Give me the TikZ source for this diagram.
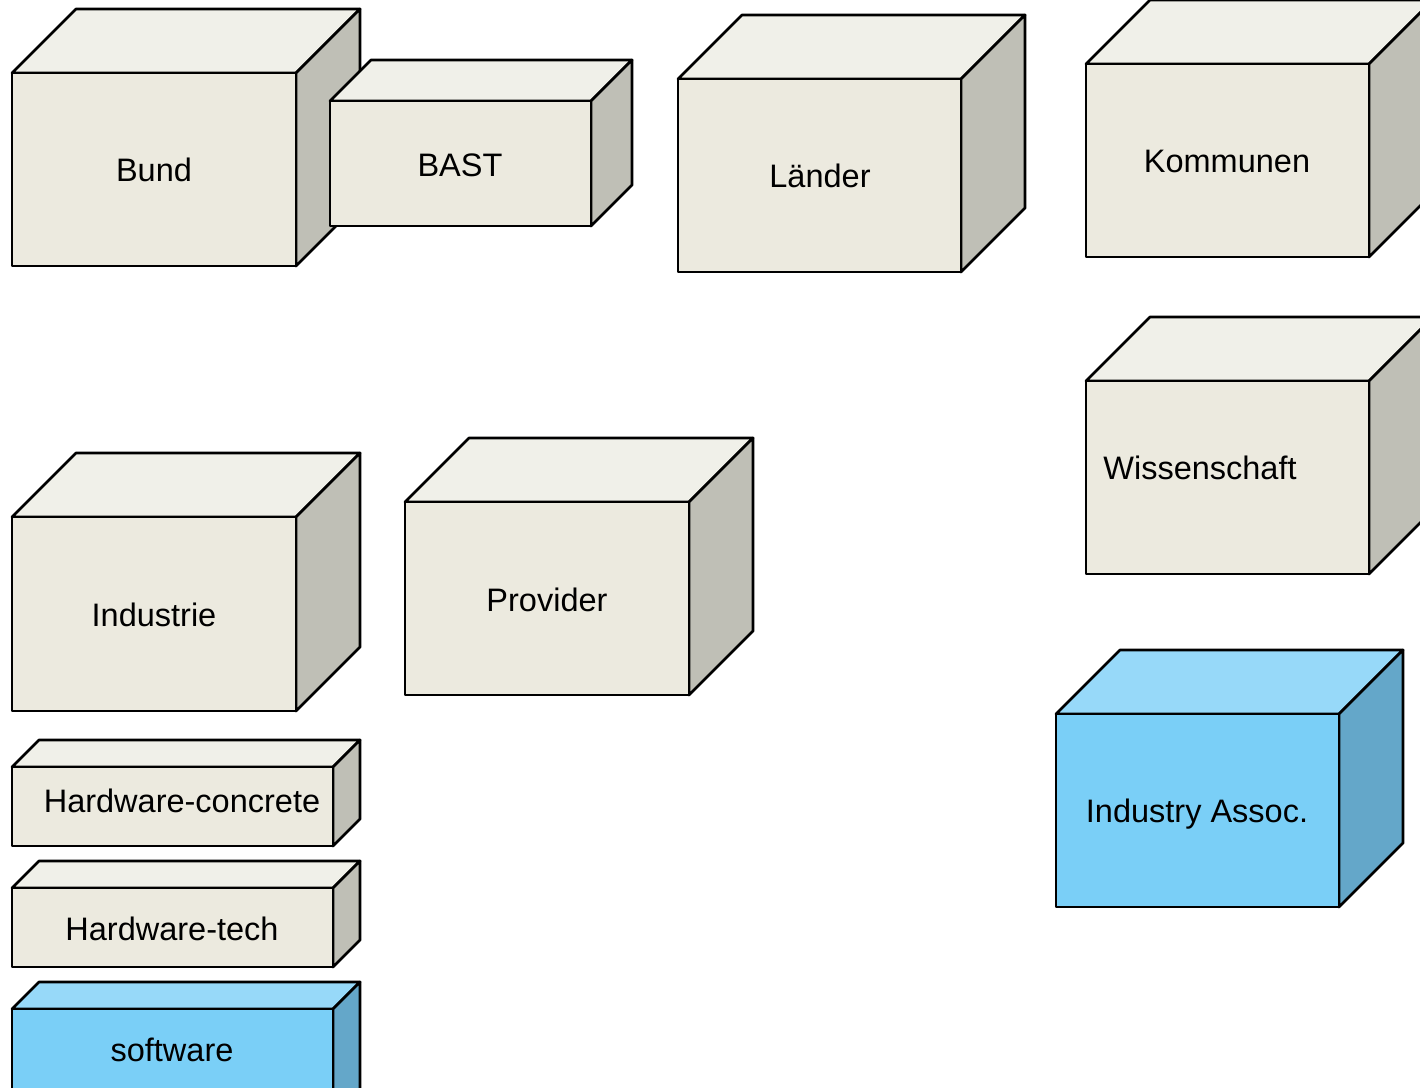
\documentclass[tikz,border=0pt]{standalone}
\usepackage{fontspec}
\setmainfont{Liberation Sans}
\definecolor{bFront}{HTML}{ECEADF}
\definecolor{bTop}{HTML}{F0F0E9}
\definecolor{bSide}{HTML}{BFBFB6}
\definecolor{uFront}{HTML}{7ACFF7}
\definecolor{uTop}{HTML}{97D9F9}
\definecolor{uSide}{HTML}{64A7C9}
\tikzset{
  edge/.style={draw=black,line width=2.7pt,line join=round},
  lbl/.style={font=\fontsize{32.5}{38}\selectfont,inner sep=0pt,anchor=base},
}
% #1 name, #2 x1, #3 y1, #4 x2, #5 y2, #6 depth, #7 colour prefix, #8 text x, #9 text baseline y, then text
\newcommand\nodebox[9]{%
  \filldraw[edge,fill=#7Top] (#2,#3) -- ++(#6,-#6) -- ({#4+#6},{#3-#6}) -- (#4,#3) -- cycle;
  \filldraw[edge,fill=#7Side] (#4,#3) -- ({#4+#6},{#3-#6}) -- ({#4+#6},{#5-#6}) -- (#4,#5) -- cycle;
  \filldraw[edge,fill=#7Front] (#2,#3) rectangle (#4,#5);
  \node[lbl] (#1) at (#8,#9)}
\begin{document}
\begin{tikzpicture}[x=1pt,y=-1pt]
\useasboundingbox (0,0) rectangle (1420,1087);
\clip (0,0) rectangle (1420,1087);
\nodebox{bund}{12}{73}{296}{266}{64}{b}{154}{181}{Bund};
\nodebox{bast}{330}{101}{591}{226}{41}{b}{460}{176}{BAST};
\nodebox{laender}{678}{79}{961}{272}{64}{b}{820}{187}{Länder};
\nodebox{kommunen}{1086}{64}{1369}{257}{64}{b}{1227}{172}{Kommunen};
\nodebox{wissenschaft}{1086}{381}{1369}{574}{64}{b}{1200}{479}{Wissenschaft};
\nodebox{industrie}{12}{517}{296}{711}{64}{b}{154}{626}{Industrie};
\nodebox{provider}{405}{502}{689}{695}{64}{b}{547}{611}{Provider};
\nodebox{hwconcrete}{12}{767}{333}{846}{27}{b}{182}{812}{Hardware-concrete};
\nodebox{hwtech}{12}{888}{333}{967}{27}{b}{172}{940}{Hardware-tech};
\nodebox{software}{12}{1009}{333}{1130}{27}{u}{172}{1061}{software};
\nodebox{industryassoc}{1056}{714}{1339}{907}{64}{u}{1197}{822}{Industry Assoc.};
\end{tikzpicture}
\end{document}
